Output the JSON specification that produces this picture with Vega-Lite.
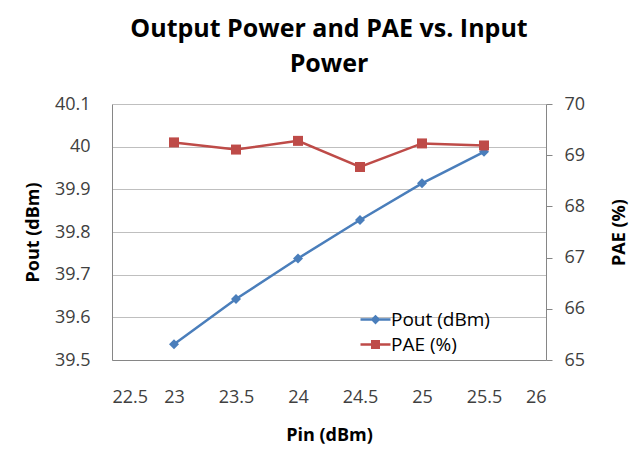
{
  "$schema": "https://vega.github.io/schema/vega-lite/v6.json",
  "width": 434,
  "height": 256,
  "autosize": {"type": "none"},
  "padding": {"left": 112, "top": 104, "right": 95, "bottom": 92},
  "background": "white",
  "title": {
    "text": ["Output Power and PAE vs. Input", "Power"],
    "font": "Open Sans",
    "fontSize": 25,
    "fontWeight": "bold",
    "color": "#000000",
    "lineHeight": 35,
    "anchor": "middle",
    "offset": 18
  },
  "config": {
    "view": {"stroke": null},
    "font": "Open Sans",
    "axis": {"labelFont": "Open Sans", "titleFont": "Open Sans", "labelFontSize": 18, "titleFontSize": 18, "labelColor": "#404040", "titleColor": "#000000", "titleFontWeight": "bold", "domainColor": "#868686", "tickColor": "#868686", "gridColor": "#bfbfbf"}
  },
  "data": {
    "values": [
      {"pin": 23, "series": "Pout (dBm)", "value": 39.537},
      {"pin": 23.5, "series": "Pout (dBm)", "value": 39.643},
      {"pin": 24, "series": "Pout (dBm)", "value": 39.738},
      {"pin": 24.5, "series": "Pout (dBm)", "value": 39.828},
      {"pin": 25, "series": "Pout (dBm)", "value": 39.914},
      {"pin": 25.5, "series": "Pout (dBm)", "value": 39.988},
      {"pin": 23, "series": "PAE (%)", "value": 69.25},
      {"pin": 23.5, "series": "PAE (%)", "value": 69.11},
      {"pin": 24, "series": "PAE (%)", "value": 69.28},
      {"pin": 24.5, "series": "PAE (%)", "value": 68.77},
      {"pin": 25, "series": "PAE (%)", "value": 69.23},
      {"pin": 25.5, "series": "PAE (%)", "value": 69.19}
    ]
  },
  "layer": [
    {
      "transform": [{"filter": "datum.series === 'Pout (dBm)'"}],
      "encoding": {
        "x": {"field": "pin", "type": "quantitative", "scale": {"domain": [22.5, 26], "nice": false, "zero": false},
          "axis": {"values": [22.5, 23, 23.5, 24, 24.5, 25, 25.5, 26], "format": "~f", "grid": false, "ticks": false, "domain": true, "labelPadding": 28, "title": "Pin (dBm)", "titlePadding": 20}},
        "y": {"field": "value", "type": "quantitative", "scale": {"domain": [39.5, 40.1], "nice": false, "zero": false},
          "axis": {"orient": "left", "values": [39.5, 39.6, 39.7, 39.8, 39.9, 40, 40.1], "format": "~f", "grid": true, "ticks": false, "domain": true, "labelPadding": 22, "title": "Pout (dBm)", "titlePadding": 12}}
      },
      "layer": [
        {"mark": {"type": "line", "color": "#4a7ebb", "strokeWidth": 2.5}},
        {"mark": {"type": "point", "shape": "diamond", "filled": true, "size": 100, "opacity": 1, "color": "#4a7ebb"}},
        {"mark": {"type": "point", "filled": true, "size": 0, "opacity": 1},
          "encoding": {
            "color": {"field": "series", "type": "nominal",
              "scale": {"domain": ["Pout (dBm)", "PAE (%)"], "range": ["#4a7ebb", "#be4b48"]},
              "legend": {"orient": "none", "legendX": 254, "legendY": 206, "title": null, "labelFont": "Open Sans", "labelFontSize": 19, "labelColor": "#000000", "symbolSize": 225, "labelOffset": 6, "rowPadding": 5, "symbolOpacity": 1}},
            "shape": {"field": "series", "type": "nominal",
              "scale": {"domain": ["Pout (dBm)", "PAE (%)"], "range": ["M-2,-0.17H2V0.17H-2Z M0,-0.65L0.65,0L0,0.65L-0.65,0Z", "M-2,-0.17H2V0.17H-2Z M-0.6,-0.6H0.6V0.6H-0.6Z"]},
              "legend": {"orient": "none", "legendX": 254, "legendY": 206, "title": null, "labelFont": "Open Sans", "labelFontSize": 19, "labelColor": "#000000", "symbolSize": 225, "labelOffset": 6, "rowPadding": 5, "symbolOpacity": 1}}
          }}
      ]
    },
    {
      "transform": [{"filter": "datum.series === 'PAE (%)'"}],
      "encoding": {
        "x": {"field": "pin", "type": "quantitative", "scale": {"domain": [22.5, 26], "nice": false, "zero": false}},
        "y": {"field": "value", "type": "quantitative", "scale": {"domain": [65, 70], "nice": false, "zero": false},
          "axis": {"orient": "right", "values": [65, 66, 67, 68, 69, 70], "format": "~f", "grid": false, "ticks": true, "tickSize": 6, "domain": true, "labelPadding": 12, "title": "PAE (%)", "titleAngle": 270, "titleBaseline": "top", "titlePadding": 26}}
      },
      "layer": [
        {"mark": {"type": "line", "color": "#be4b48", "strokeWidth": 2.5}},
        {"mark": {"type": "point", "shape": "square", "filled": true, "size": 100, "opacity": 1, "color": "#be4b48"}}
      ]
    }
  ],
  "resolve": {"scale": {"y": "independent"}}
}
